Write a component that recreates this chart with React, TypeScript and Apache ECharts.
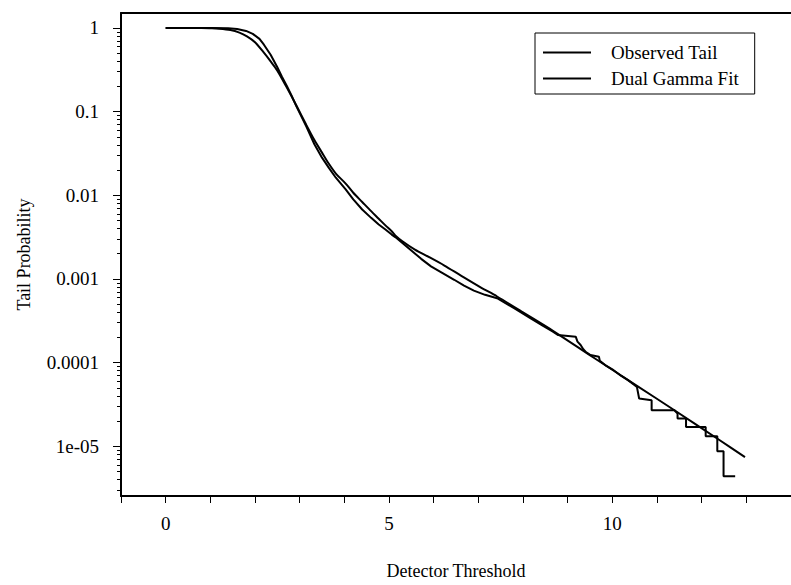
import React, { useEffect, useRef } from "react";
import * as echarts from "echarts";

// Observed empirical tail: detector threshold vs log10(tail probability)
const obsX = [
  0, 0.5, 1.0, 1.4, 1.6, 1.8, 1.95, 2.1, 2.2, 2.35, 2.5, 2.6, 2.71, 2.82, 2.93, 3.04, 3.15, 3.33, 3.5, 3.65,
  3.81, 4.03, 4.2, 4.4, 4.6, 4.77, 4.92, 5.06, 5.14, 5.3, 5.5, 5.72, 5.94, 6.2, 6.46, 6.68, 6.9, 7.15, 7.42,
  7.8, 8.2, 8.45, 8.67, 8.78, 9.18, 9.22, 9.29, 9.35, 9.4, 9.51, 9.7, 9.72, 9.77, 9.84, 10.0, 10.2, 10.35,
  10.5, 10.55, 10.6, 10.88, 10.88, 11.39, 11.46, 11.46, 11.65, 11.65, 12.09, 12.09, 12.35, 12.35, 12.49,
  12.49, 12.75,
];
const obsLogP = [
  0, 0, 0, -0.003, -0.012, -0.035, -0.07, -0.13, -0.2, -0.32, -0.47, -0.58, -0.69, -0.81, -0.94, -1.06, -1.18,
  -1.39, -1.55, -1.67, -1.79, -1.93, -2.05, -2.17, -2.27, -2.35, -2.41, -2.47, -2.5, -2.57, -2.66, -2.76,
  -2.85, -2.93, -3.01, -3.08, -3.14, -3.19, -3.23, -3.35, -3.48, -3.56, -3.63, -3.67, -3.69, -3.75, -3.79,
  -3.84, -3.87, -3.91, -3.93, -3.98, -4.0, -4.03, -4.08, -4.16, -4.21, -4.27, -4.29, -4.43, -4.45, -4.57,
  -4.57, -4.61, -4.67, -4.67, -4.77, -4.77, -4.88, -4.88, -5.06, -5.06, -5.36, -5.36,
];

// Dual Gamma fit
const fitX = [
  0, 0.8, 1.0, 1.2, 1.45, 1.65, 1.82, 2.0, 2.19, 2.35, 2.5, 2.71, 2.93, 3.15, 3.33, 3.5, 3.65, 3.81, 4.03,
  4.2, 4.4, 4.6, 4.77, 4.92, 5.06, 5.14, 5.3, 5.58, 5.9, 6.24, 6.61, 7.05, 7.42, 8.0, 8.67, 9.55, 10.5,
  11.39, 12.38, 12.97,
];
const fitLogP = [
  0, 0, -0.003, -0.008, -0.024, -0.055, -0.1, -0.17, -0.29, -0.4, -0.51, -0.71, -0.93, -1.16, -1.34, -1.49,
  -1.62, -1.74, -1.86, -1.97, -2.08, -2.19, -2.28, -2.36, -2.43, -2.48, -2.55, -2.65, -2.74, -2.84, -2.96,
  -3.1, -3.21, -3.4, -3.62, -3.93, -4.26, -4.57, -4.92, -5.13,
];

const yMajorExps = [-5, -4, -3, -2, -1, 0];
const yMajorLabels = ["1e-05", "0.0001", "0.001", "0.01", "0.1", "1"];
const minorMantissas = [2, 3, 4, 5, 6, 7, 8, 9];
const xTickValues = [-1, 0, 1, 2, 3, 4, 5, 6, 7, 8, 9, 10, 11, 12, 13, 14];
const xLabelValues = [0, 5, 10];
const seriesNames = ["Observed Tail", "Dual Gamma Fit"];

const Y_MIN = -5.595;
const Y_MAX = 0.179;
const FONT = "'Liberation Serif', 'Times New Roman', serif";

export default function App() {
  const ref = useRef<HTMLDivElement>(null);

  useEffect(() => {
    if (!ref.current) return;
    const chart = echarts.init(ref.current, null, { renderer: "svg" });

    const minorTicks: number[] = [];
    for (let d = -6; d <= 0; d++) {
      for (const m of minorMantissas) {
        const v = d + Math.log10(m);
        if (v > Y_MIN && v < Y_MAX) minorTicks.push(v);
      }
    }
    const obsData = obsX.map((x, i) => [x, obsLogP[i]]);
    const fitData = fitX.map((x, i) => [x, fitLogP[i]]);

    const lineStyle = { color: "#000", width: 2 };

    chart.setOption({
      animation: false,
      backgroundColor: "#fff",
      grid: { left: 121, top: 13, width: 680, height: 485 },
      legend: {
        data: seriesNames,
        orient: "vertical",
        left: 535,
        top: 33,
        padding: [10, 16, 6, 8],
        icon: "rect",
        itemWidth: 48,
        itemHeight: 2,
        itemGap: 7,
        borderColor: "#000",
        borderWidth: 1,
        backgroundColor: "#fff",
        itemStyle: { color: "#000" },
        textStyle: { fontFamily: FONT, fontSize: 19, color: "#000", padding: [0, 0, 0, 15] },
      },
      xAxis: [
        {
          type: "value",
          position: "bottom",
          min: -1,
          max: 14,
          name: "Detector Threshold",
          nameLocation: "middle",
          nameGap: 66,
          nameTextStyle: { fontFamily: FONT, fontSize: 18, color: "#000" },
          axisLine: { show: true, onZero: false, lineStyle: { color: "#000", width: 2 } },
          axisTick: { show: true, inside: false, length: 7, customValues: xTickValues, lineStyle: { color: "#000", width: 1 } },
          axisLabel: {
            customValues: xLabelValues,
            margin: 18,
            fontFamily: FONT,
            fontSize: 19,
            color: "#000",
            formatter: (v: number) => String(v),
          },
          splitLine: { show: false },
        },
        {
          type: "value",
          position: "top",
          min: -1,
          max: 14,
          axisLine: { show: true, onZero: false, lineStyle: { color: "#000", width: 2 } },
          axisTick: { show: false },
          axisLabel: { show: false },
          splitLine: { show: false },
        },
      ],
      yAxis: [
        {
          type: "value",
          position: "left",
          min: Y_MIN,
          max: Y_MAX,
          name: "Tail Probability",
          nameLocation: "middle",
          nameGap: 88,
          nameTextStyle: { fontFamily: FONT, fontSize: 18, color: "#000" },
          axisLine: { show: true, onZero: false, lineStyle: { color: "#000", width: 2 } },
          axisTick: { show: true, inside: false, length: 8, customValues: yMajorExps, lineStyle: { color: "#000", width: 1 } },
          axisLabel: {
            customValues: yMajorExps,
            margin: 22,
            fontFamily: FONT,
            fontSize: 19,
            color: "#000",
            formatter: (v: number) => {
              const i = yMajorExps.findIndex((e) => Math.abs(e - v) < 1e-6);
              return i >= 0 ? yMajorLabels[i] : "";
            },
          },
          splitLine: { show: false },
        },
        {
          type: "value",
          position: "left",
          min: Y_MIN,
          max: Y_MAX,
          axisLine: { show: false, onZero: false },
          axisTick: { show: true, inside: false, length: 4, customValues: minorTicks, lineStyle: { color: "#000", width: 1 } },
          axisLabel: { show: false },
          splitLine: { show: false },
        },
      ],
      series: [
        {
          name: seriesNames[0],
          type: "line",
          xAxisIndex: 0,
          yAxisIndex: 0,
          symbol: "none",
          lineStyle,
          itemStyle: { color: "#000" },
          data: obsData,
        },
        {
          name: seriesNames[1],
          type: "line",
          xAxisIndex: 0,
          yAxisIndex: 0,
          symbol: "none",
          smooth: 0.3,
          lineStyle,
          itemStyle: { color: "#000" },
          data: fitData,
        },
      ],
    });

    return () => chart.dispose();
  }, []);

  return (
    <div
      ref={ref}
      style={{ position: "fixed", left: 0, top: 0, width: 791, height: 585, background: "#fff" }}
    />
  );
}
